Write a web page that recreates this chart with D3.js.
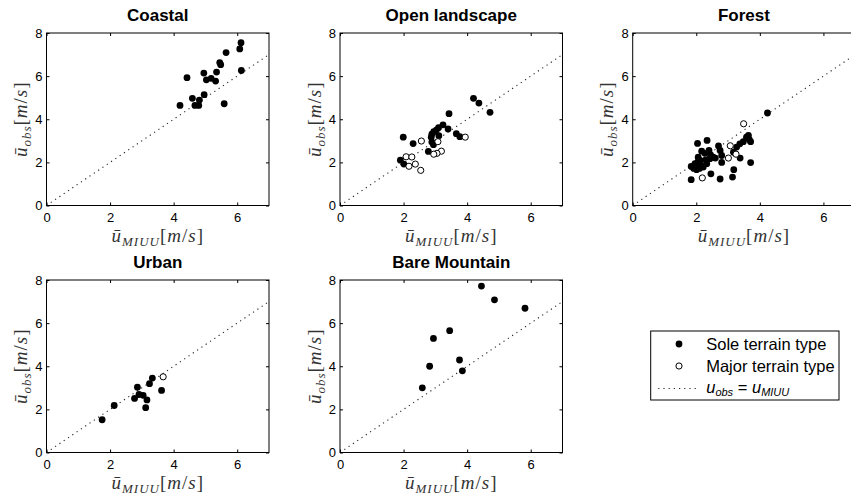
<!DOCTYPE html>
<html>
<head>
<meta charset="utf-8">
<script src="https://cdn.jsdelivr.net/npm/d3@7"></script>
<style>
  html, body { margin: 0; padding: 0; background: #fff; }
  svg { display: block; }
</style>
</head>
<body>
<svg id="chart" width="851" height="501"></svg>
<script>
// Axis ticks shared by every panel
const xTicks = [0, 2, 4, 6];
const yTicks = [0, 2, 4, 6, 8];
const xDomain = [0, 7];
const yDomain = [0, 8];

// Observed vs modelled mean wind speed [m/s], as [u_MIUU, u_obs]
const coastalSole = [
  [6.12, 7.55], [6.08, 7.26], [5.65, 7.09], [5.45, 6.63], [5.48, 6.53],
  [6.13, 6.26], [4.42, 5.93], [4.95, 6.14], [5.35, 6.19], [5.03, 5.83],
  [5.18, 5.90], [5.32, 5.77], [4.96, 5.14], [4.59, 4.97], [4.81, 4.89],
  [4.67, 4.64], [4.79, 4.64], [4.20, 4.64], [5.59, 4.72]
];
const coastalMajor = [];

const openSole = [
  [4.20, 4.97], [4.37, 4.75], [4.72, 4.32], [3.43, 4.26], [3.24, 3.74],
  [3.40, 3.55], [3.10, 3.61], [2.95, 3.42], [2.89, 3.31], [2.87, 3.17],
  [3.11, 3.24], [3.66, 3.33], [3.77, 3.19], [1.99, 3.17], [2.30, 2.87],
  [2.89, 2.94], [2.94, 2.82], [2.78, 2.51], [1.90, 2.10], [2.01, 1.92],
  [3.03, 3.50]
];
const openMajor = [
  [2.56, 2.99], [3.08, 2.96], [3.94, 3.17], [3.19, 2.52], [3.05, 2.42],
  [2.95, 2.38], [2.08, 2.26], [2.26, 2.25], [2.37, 1.92], [2.17, 1.82],
  [2.54, 1.63]
];

const forestSole = [
  [4.24, 4.29], [3.64, 3.25], [3.58, 3.17], [3.71, 2.96], [3.67, 3.05],
  [3.48, 2.96], [3.37, 2.86], [3.27, 2.71], [3.17, 2.47], [3.38, 2.20],
  [3.71, 1.99], [3.18, 1.66], [3.14, 1.32], [2.75, 1.23], [2.46, 1.47],
  [1.84, 1.20], [2.04, 2.88], [2.34, 3.02], [2.70, 2.76], [2.75, 2.55],
  [2.80, 2.32], [2.80, 2.00], [2.53, 2.24], [2.43, 2.17], [2.27, 2.42],
  [2.17, 2.52], [2.12, 2.09], [1.96, 1.94], [1.84, 1.81], [2.01, 1.66],
  [2.22, 1.78], [2.33, 1.94], [2.06, 2.24], [2.05, 2.02], [2.30, 2.12],
  [2.60, 2.20], [2.45, 2.35], [1.92, 1.72], [2.15, 1.86], [2.40, 2.55],
  [2.10, 1.72]
];
const forestMajor = [
  [3.49, 3.79], [3.07, 2.77], [3.25, 2.38], [3.01, 2.20], [2.19, 1.28]
];

const urbanSole = [
  [1.75, 1.52], [2.13, 2.18], [2.77, 2.51], [2.86, 3.03], [2.91, 2.69],
  [3.04, 2.65], [3.16, 2.44], [3.12, 2.08], [3.24, 3.19], [3.33, 3.45],
  [3.62, 2.88]
];
const urbanMajor = [[3.67, 3.51]];

const bareSole = [
  [4.45, 7.72], [4.86, 7.08], [5.82, 6.69], [3.45, 5.65], [2.94, 5.29],
  [2.82, 4.00], [3.76, 4.29], [3.85, 3.79], [2.59, 3.00]
];
const bareMajor = [];

const titles = ["Coastal", "Open landscape", "Forest", "Urban", "Bare Mountain"];
const legendLabels = ["Sole terrain type", "Major terrain type"];

const panels = [
  { title: titles[0], sole: coastalSole, major: coastalMajor, col: 0, row: 0 },
  { title: titles[1], sole: openSole, major: openMajor, col: 1, row: 0 },
  { title: titles[2], sole: forestSole, major: forestMajor, col: 2, row: 0 },
  { title: titles[3], sole: urbanSole, major: urbanMajor, col: 0, row: 1 },
  { title: titles[4], sole: bareSole, major: bareMajor, col: 1, row: 1 }
];

// Layout
const colLeft = [46.5, 340, 632.7];
const rowTop = [33, 280];
const plotW = 222.5;
const plotH = 172.5;

const sans = "'Liberation Sans', Arial, Helvetica, sans-serif";
const serif = "'Liberation Serif', 'Times New Roman', serif";

const svg = d3.select("#chart");

// Math-style label: u-bar with subscript, followed by [m/s]
function mathLabel(sel, sub) {
  sel.attr("font-family", serif).attr("font-size", 19).attr("fill", "#333")
     .attr("letter-spacing", 1);
  sel.append("tspan").attr("font-style", "italic").text("\u016B");
  sel.append("tspan").attr("font-style", "italic").attr("font-size", 13)
     .attr("dy", 4).text(sub);
  sel.append("tspan").attr("dy", -4).text("[");
  sel.append("tspan").attr("font-style", "italic").text("m");
  sel.append("tspan").text("/");
  sel.append("tspan").attr("font-style", "italic").text("s");
  sel.append("tspan").text("]");
}

panels.forEach(p => {
  const left = colLeft[p.col];
  const top = rowTop[p.row];
  const x = d3.scaleLinear().domain(xDomain).range([0, plotW]);
  const y = d3.scaleLinear().domain(yDomain).range([plotH, 0]);

  const g = svg.append("g").attr("transform", `translate(${left},${top})`);

  // 1:1 reference line
  g.append("line")
    .attr("x1", x(0)).attr("y1", y(0))
    .attr("x2", x(7)).attr("y2", y(7))
    .attr("stroke", "#222").attr("stroke-width", 1.1)
    .attr("stroke-dasharray", "1.2,4");

  // Axes with inward ticks on all four sides
  const styleAxis = a => {
    a.select(".domain").remove();
    a.selectAll(".tick line").attr("stroke", "#000");
    a.selectAll("text").attr("font-family", sans).attr("font-size", 13).attr("fill", "#000");
  };
  g.append("g").attr("transform", `translate(0,${plotH})`)
    .call(d3.axisBottom(x).tickValues(xTicks).tickSize(-3).tickPadding(7).tickFormat(d3.format("d")))
    .call(styleAxis);
  g.append("g")
    .call(d3.axisLeft(y).tickValues(yTicks).tickSize(-3).tickPadding(4).tickFormat(d3.format("d")))
    .call(styleAxis);
  g.append("g")
    .call(d3.axisTop(x).tickValues(xTicks).tickSize(-3).tickFormat(""))
    .call(styleAxis);
  g.append("g").attr("transform", `translate(${plotW},0)`)
    .call(d3.axisRight(y).tickValues(yTicks).tickSize(-3).tickFormat(""))
    .call(styleAxis);

  // Frame
  g.append("rect")
    .attr("x", 0).attr("y", 0).attr("width", plotW).attr("height", plotH)
    .attr("fill", "none").attr("stroke", "#000").attr("stroke-width", 1);

  // Sole terrain type: filled markers
  g.selectAll("circle.sole").data(p.sole).join("circle")
    .attr("class", "sole")
    .attr("cx", d => x(d[0])).attr("cy", d => y(d[1]))
    .attr("r", 3.4).attr("fill", "#000");

  // Major terrain type: open markers
  g.selectAll("circle.major").data(p.major).join("circle")
    .attr("class", "major")
    .attr("cx", d => x(d[0])).attr("cy", d => y(d[1]))
    .attr("r", 3.1).attr("fill", "#fff").attr("stroke", "#000").attr("stroke-width", 1);

  // Title
  g.append("text")
    .attr("x", plotW / 2).attr("y", -12)
    .attr("text-anchor", "middle")
    .attr("font-family", sans).attr("font-size", 17).attr("font-weight", "bold")
    .text(p.title);

  // Axis labels
  g.append("text")
    .attr("x", plotW / 2).attr("y", plotH + 36)
    .attr("text-anchor", "middle")
    .call(mathLabel, "MIUU");
  g.append("text")
    .attr("transform", `translate(-19.5,${plotH / 2}) rotate(-90)`)
    .attr("text-anchor", "middle")
    .call(mathLabel, "obs");
});

// Legend
const lg = svg.append("g").attr("transform", "translate(650.7,331)");
lg.append("rect").attr("width", 188.3).attr("height", 69)
  .attr("fill", "#fff").attr("stroke", "#000").attr("stroke-width", 1);
lg.append("circle").attr("cx", 28.3).attr("cy", 13).attr("r", 3.4).attr("fill", "#000");
lg.append("circle").attr("cx", 28.3).attr("cy", 35).attr("r", 3.1)
  .attr("fill", "#fff").attr("stroke", "#000");
lg.append("line").attr("x1", 7.5).attr("x2", 46.5).attr("y1", 57.5).attr("y2", 57.5)
  .attr("stroke", "#222").attr("stroke-width", 1.1).attr("stroke-dasharray", "1.2,4");
legendLabels.forEach((t, i) => {
  lg.append("text").attr("x", 55.5).attr("y", 18.5 + i * 22)
    .attr("font-family", sans).attr("font-size", 16.5).text(t);
});
const eq = lg.append("text").attr("x", 55.5).attr("y", 62)
  .attr("font-family", sans).attr("font-size", 16.5).attr("font-style", "italic");
eq.append("tspan").text("u");
eq.append("tspan").attr("font-size", 11).attr("dy", 3).text("obs");
eq.append("tspan").attr("dy", -3).attr("font-style", "normal").text(" = ");
eq.append("tspan").text("u");
eq.append("tspan").attr("font-size", 11).attr("dy", 3).text("MIUU");
</script>
</body>
</html>
